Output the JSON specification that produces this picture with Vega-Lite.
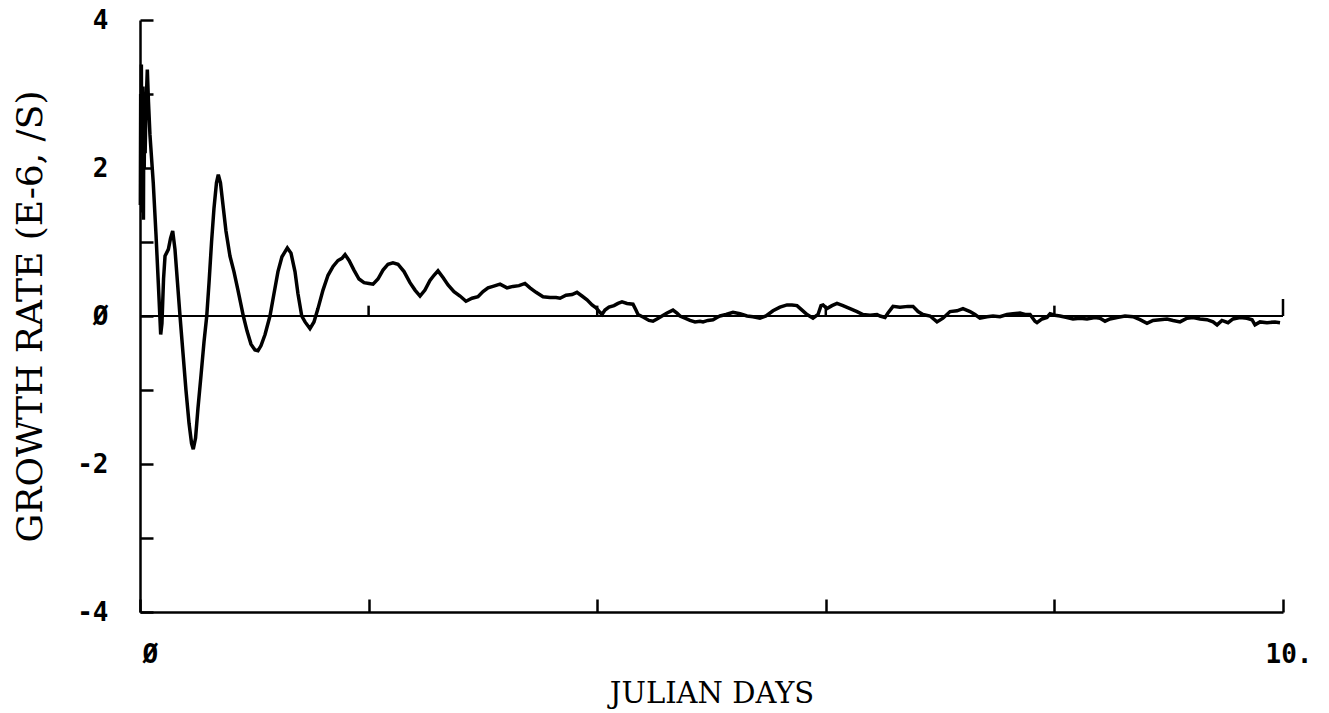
{
  "$schema": "https://vega.github.io/schema/vega-lite/v6.json",
  "width": 1143,
  "height": 592,
  "autosize": "none",
  "padding": {"left": 140, "top": 20, "right": 46, "bottom": 101},
  "background": "white",
  "config": {
    "view": {"stroke": null},
    "axis": {"grid": false, "domainColor": "black", "domainWidth": 2.5, "tickColor": "black", "tickWidth": 2.5, "labelColor": "black", "titleColor": "black"}
  },
  "datasets": {
    "curve": [
      {"day":0.003,"rate":1.5},{"day":0.006,"rate":3.0},{"day":0.009,"rate":2.0},{"day":0.012,"rate":3.4},{"day":0.016,"rate":1.4},{"day":0.019,"rate":2.9},{"day":0.023,"rate":1.6},{"day":0.026,"rate":3.1},{"day":0.030,"rate":1.3},{"day":0.033,"rate":2.7},{"day":0.037,"rate":2.0},{"day":0.040,"rate":2.6},{"day":0.045,"rate":2.2},{"day":0.052,"rate":2.8},{"day":0.064,"rate":3.33},{"day":0.074,"rate":2.9},{"day":0.087,"rate":2.45},{"day":0.116,"rate":1.8},{"day":0.140,"rate":1.1},{"day":0.160,"rate":0.45},{"day":0.181,"rate":-0.25},{"day":0.192,"rate":-0.1},{"day":0.206,"rate":0.5},{"day":0.219,"rate":0.81},{"day":0.248,"rate":0.9},{"day":0.267,"rate":1.05},{"day":0.286,"rate":1.15},{"day":0.306,"rate":0.9},{"day":0.328,"rate":0.45},{"day":0.350,"rate":0.0},{"day":0.376,"rate":-0.5},{"day":0.402,"rate":-1.0},{"day":0.429,"rate":-1.45},{"day":0.451,"rate":-1.72},{"day":0.466,"rate":-1.8},{"day":0.486,"rate":-1.65},{"day":0.507,"rate":-1.25},{"day":0.534,"rate":-0.8},{"day":0.560,"rate":-0.35},{"day":0.584,"rate":0.0},{"day":0.604,"rate":0.45},{"day":0.626,"rate":1.0},{"day":0.647,"rate":1.45},{"day":0.669,"rate":1.8},{"day":0.685,"rate":1.91},{"day":0.704,"rate":1.8},{"day":0.726,"rate":1.5},{"day":0.752,"rate":1.15},{"day":0.787,"rate":0.81},{"day":0.822,"rate":0.6},{"day":0.857,"rate":0.35},{"day":0.904,"rate":0.0},{"day":0.936,"rate":-0.2},{"day":0.971,"rate":-0.38},{"day":1.006,"rate":-0.46},{"day":1.032,"rate":-0.47},{"day":1.059,"rate":-0.4},{"day":1.094,"rate":-0.25},{"day":1.137,"rate":0.0},{"day":1.172,"rate":0.3},{"day":1.207,"rate":0.6},{"day":1.242,"rate":0.8},{"day":1.289,"rate":0.92},{"day":1.321,"rate":0.85},{"day":1.356,"rate":0.6},{"day":1.382,"rate":0.3},{"day":1.415,"rate":0.0},{"day":1.444,"rate":-0.08},{"day":1.487,"rate":-0.17},{"day":1.522,"rate":-0.08},{"day":1.557,"rate":0.1},{"day":1.601,"rate":0.35},{"day":1.645,"rate":0.55},{"day":1.689,"rate":0.67},{"day":1.732,"rate":0.75},{"day":1.767,"rate":0.78},{"day":1.794,"rate":0.83},{"day":1.829,"rate":0.75},{"day":1.872,"rate":0.62},{"day":1.916,"rate":0.5},{"day":1.960,"rate":0.45},{"day":2.003,"rate":0.44},{"day":2.039,"rate":0.43},{"day":2.082,"rate":0.5},{"day":2.126,"rate":0.62},{"day":2.170,"rate":0.7},{"day":2.213,"rate":0.72},{"day":2.257,"rate":0.7},{"day":2.310,"rate":0.6},{"day":2.362,"rate":0.45},{"day":2.406,"rate":0.35},{"day":2.450,"rate":0.27},{"day":2.493,"rate":0.35},{"day":2.537,"rate":0.48},{"day":2.572,"rate":0.55},{"day":2.607,"rate":0.61},{"day":2.651,"rate":0.52},{"day":2.695,"rate":0.42},{"day":2.747,"rate":0.33},{"day":2.800,"rate":0.27},{"day":2.852,"rate":0.2},{"day":2.905,"rate":0.24},{"day":2.957,"rate":0.26},{"day":3.001,"rate":0.33},{"day":3.045,"rate":0.38},{"day":3.088,"rate":0.4},{"day":3.150,"rate":0.43},{"day":3.211,"rate":0.38},{"day":3.263,"rate":0.4},{"day":3.316,"rate":0.41},{"day":3.368,"rate":0.44},{"day":3.412,"rate":0.38},{"day":3.465,"rate":0.32},{"day":3.526,"rate":0.26},{"day":3.587,"rate":0.25},{"day":3.640,"rate":0.25},{"day":3.675,"rate":0.24},{"day":3.727,"rate":0.28},{"day":3.780,"rate":0.29},{"day":3.823,"rate":0.32},{"day":3.867,"rate":0.27},{"day":3.911,"rate":0.22},{"day":3.955,"rate":0.15},{"day":3.990,"rate":0.11},{"day":4.024,"rate":0.05},{"day":4.042,"rate":0.02},{"day":4.068,"rate":0.08},{"day":4.103,"rate":0.12},{"day":4.147,"rate":0.14},{"day":4.182,"rate":0.17},{"day":4.217,"rate":0.19},{"day":4.261,"rate":0.17},{"day":4.313,"rate":0.16},{"day":4.339,"rate":0.08},{"day":4.357,"rate":0.02},{"day":4.409,"rate":-0.02},{"day":4.453,"rate":-0.06},{"day":4.488,"rate":-0.07},{"day":4.523,"rate":-0.04},{"day":4.567,"rate":0.0},{"day":4.611,"rate":0.04},{"day":4.663,"rate":0.08},{"day":4.698,"rate":0.04},{"day":4.724,"rate":0.0},{"day":4.768,"rate":-0.03},{"day":4.812,"rate":-0.06},{"day":4.856,"rate":-0.08},{"day":4.899,"rate":-0.07},{"day":4.926,"rate":-0.08},{"day":4.969,"rate":-0.06},{"day":5.013,"rate":-0.05},{"day":5.048,"rate":-0.02},{"day":5.074,"rate":0.0},{"day":5.127,"rate":0.02},{"day":5.188,"rate":0.05},{"day":5.249,"rate":0.03},{"day":5.311,"rate":0.0},{"day":5.363,"rate":-0.01},{"day":5.424,"rate":-0.03},{"day":5.477,"rate":0.0},{"day":5.538,"rate":0.07},{"day":5.599,"rate":0.12},{"day":5.661,"rate":0.15},{"day":5.704,"rate":0.15},{"day":5.748,"rate":0.14},{"day":5.792,"rate":0.08},{"day":5.836,"rate":0.02},{"day":5.888,"rate":-0.03},{"day":5.932,"rate":0.02},{"day":5.958,"rate":0.14},{"day":5.976,"rate":0.15},{"day":6.010,"rate":0.1},{"day":6.054,"rate":0.14},{"day":6.098,"rate":0.17},{"day":6.150,"rate":0.14},{"day":6.212,"rate":0.1},{"day":6.273,"rate":0.06},{"day":6.325,"rate":0.02},{"day":6.387,"rate":0.01},{"day":6.448,"rate":0.02},{"day":6.474,"rate":0.0},{"day":6.518,"rate":-0.02},{"day":6.544,"rate":0.04},{"day":6.588,"rate":0.13},{"day":6.649,"rate":0.12},{"day":6.719,"rate":0.13},{"day":6.763,"rate":0.13},{"day":6.807,"rate":0.06},{"day":6.850,"rate":0.02},{"day":6.912,"rate":0.0},{"day":6.973,"rate":-0.08},{"day":7.025,"rate":-0.03},{"day":7.087,"rate":0.06},{"day":7.148,"rate":0.07},{"day":7.200,"rate":0.1},{"day":7.262,"rate":0.06},{"day":7.305,"rate":0.02},{"day":7.349,"rate":-0.03},{"day":7.410,"rate":-0.01},{"day":7.463,"rate":0.0},{"day":7.524,"rate":-0.01},{"day":7.585,"rate":0.02},{"day":7.638,"rate":0.03},{"day":7.699,"rate":0.04},{"day":7.743,"rate":0.02},{"day":7.787,"rate":0.02},{"day":7.830,"rate":-0.07},{"day":7.848,"rate":-0.09},{"day":7.892,"rate":-0.04},{"day":7.935,"rate":-0.02},{"day":7.962,"rate":0.03},{"day":8.005,"rate":0.01},{"day":8.049,"rate":0.0},{"day":8.110,"rate":-0.02},{"day":8.163,"rate":-0.04},{"day":8.224,"rate":-0.03},{"day":8.285,"rate":-0.04},{"day":8.355,"rate":-0.02},{"day":8.399,"rate":-0.03},{"day":8.443,"rate":-0.07},{"day":8.486,"rate":-0.04},{"day":8.548,"rate":-0.02},{"day":8.618,"rate":0.0},{"day":8.688,"rate":-0.01},{"day":8.749,"rate":-0.05},{"day":8.810,"rate":-0.1},{"day":8.863,"rate":-0.06},{"day":8.924,"rate":-0.05},{"day":8.985,"rate":-0.04},{"day":9.038,"rate":-0.06},{"day":9.099,"rate":-0.08},{"day":9.160,"rate":-0.03},{"day":9.213,"rate":-0.02},{"day":9.274,"rate":-0.04},{"day":9.335,"rate":-0.05},{"day":9.388,"rate":-0.08},{"day":9.423,"rate":-0.12},{"day":9.466,"rate":-0.06},{"day":9.519,"rate":-0.09},{"day":9.563,"rate":-0.04},{"day":9.624,"rate":-0.02},{"day":9.685,"rate":-0.03},{"day":9.729,"rate":-0.05},{"day":9.755,"rate":-0.12},{"day":9.799,"rate":-0.08},{"day":9.860,"rate":-0.09},{"day":9.930,"rate":-0.08},{"day":9.974,"rate":-0.09}
    ],
    "zero": [{"day": 0, "day_end": 10, "rate": 0}],
    "marks": [
      {"day": 2, "rate": 0, "rate_top": 0.14},
      {"day": 4, "rate": 0, "rate_top": 0.14},
      {"day": 6, "rate": 0, "rate_top": 0.14},
      {"day": 8, "rate": 0, "rate_top": 0.14},
      {"day": 10, "rate": 0, "rate_top": 0.23}
    ]
  },
  "encoding": {
    "x": {
      "field": "day", "type": "quantitative",
      "scale": {"domain": [0, 10], "nice": false, "zero": false},
      "axis": {
        "values": [0, 2, 4, 6, 8, 10],
        "tickSize": -13,
        "labelExpr": "datum.value == 0 ? 'Ø' : (datum.value == 10 ? '10.' : '')",
        "labelFont": "DejaVu Sans Mono", "labelFontWeight": "bold", "labelFontSize": 26,
        "labelAlign": "left",
        "labelOffset": {"condition": {"test": "datum.value == 10", "value": -18}, "value": 2},
        "labelBaseline": "top",
        "labelPadding": 42,
        "labelFlush": false,
        "labelOverlap": false,
        "title": "JULIAN DAYS",
        "titleFont": "DejaVu Serif", "titleFontWeight": "normal", "titleFontSize": 29,
        "titleBaseline": "alphabetic",
        "titleY": 90
      }
    },
    "y": {
      "field": "rate", "type": "quantitative",
      "scale": {"domain": [-4, 4], "nice": false},
      "axis": {
        "values": [-4, -3, -2, -1, 0, 1, 2, 3, 4],
        "tickSize": -13,
        "labelExpr": "datum.value == 0 ? 'Ø' : (datum.value % 2 == 0 ? toString(datum.value) : '')",
        "labelFont": "DejaVu Sans Mono", "labelFontWeight": "bold", "labelFontSize": 26,
        "labelPadding": 45,
        "labelFlush": false,
        "labelOverlap": false,
        "title": "GROWTH RATE (E-6, /S)",
        "titleFont": "DejaVu Serif", "titleFontWeight": "normal", "titleFontSize": 36,
        "titleAngle": -90,
        "titleAlign": "center",
        "titleBaseline": "middle",
        "titleX": -110,
        "titleY": 296
      }
    }
  },
  "layer": [
    {
      "data": {"name": "zero"},
      "mark": {"type": "rule", "color": "black", "strokeWidth": 2},
      "encoding": {"x2": {"field": "day_end"}}
    },
    {
      "data": {"name": "marks"},
      "mark": {"type": "rule", "color": "black", "strokeWidth": 2.5},
      "encoding": {"y2": {"field": "rate_top"}}
    },
    {
      "data": {"name": "curve"},
      "mark": {"type": "line", "color": "black", "strokeWidth": 3.5, "interpolate": "linear"},
      "encoding": {}
    }
  ]
}
